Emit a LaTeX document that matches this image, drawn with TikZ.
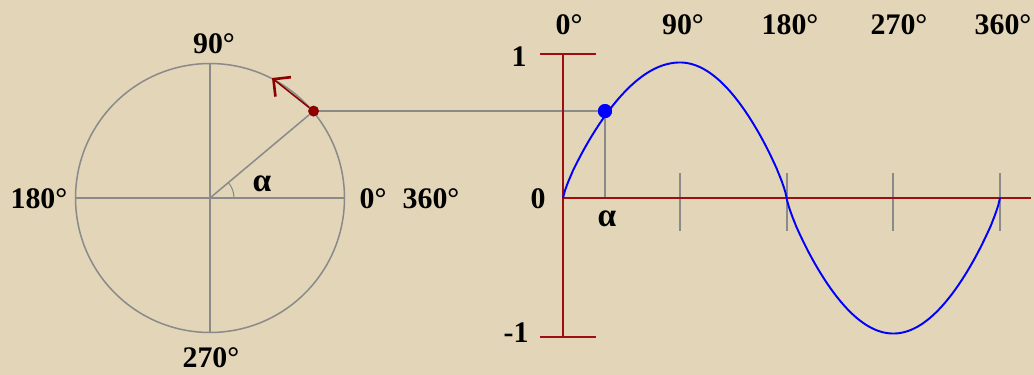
\documentclass[tikz,border=0pt]{standalone}
\usepackage{fontspec}
\setmainfont{Liberation Serif}
\usetikzlibrary{arrows.meta}
\definecolor{bg}{RGB}{226,213,184}
\definecolor{axgray}{RGB}{138,138,138}
\definecolor{axred}{RGB}{158,14,14}
\definecolor{ptred}{RGB}{140,0,0}
\begin{document}
\begin{tikzpicture}[x=0.02cm,y=-0.02cm,
  lbl/.style={font=\bfseries\fontsize{17}{20}\selectfont, inner sep=0pt, text=black},
  alph/.style={font=\bfseries\fontsize{19}{21}\selectfont, inner sep=0pt, text=black},
  grayline/.style={draw=axgray, line width=0.85pt},
  tickline/.style={draw=axgray, line width=1.1pt},
  redaxis/.style={draw=axred, line width=1.2pt},
  sinecurve/.style={draw=blue, line width=1.1pt},
  bluedot/.style={circle, fill=blue, inner sep=0pt, minimum size=0.28cm},
  reddot/.style={circle, fill=ptred, inner sep=0pt, minimum size=0.22cm},
  redarrow/.style={draw=ptred, line width=0.9pt, -{Straight Barb[angle=90:10pt, line width=1.5pt]}},
]
\fill[bg] (0,0) rectangle (1034,375);
\useasboundingbox (0,0) rectangle (1034,375);

% ---------- unit circle ----------
\node[circle, draw=axgray, line width=0.85pt, inner sep=0pt, minimum size=5.38cm] (unit) at (210,198) {};
\draw[grayline] (unit.west) -- (unit.east);
\draw[grayline] (unit.north) -- (unit.south);
\node[reddot] (P) at (unit.40) {};
\draw[grayline] (unit.center) -- (P);
\draw[grayline, line width=0.6pt] (unit.center) ++(0.48cm,0) arc[start angle=0, end angle=40, radius=0.48cm];
\coordinate (tip) at (272,78);
\draw[redarrow] (P) -- (tip);

\node[lbl] (c90)  at (214,44)  {90°};
\node[lbl] (c270) at (211,358) {270°};
\node[lbl] (c180) at (39,199)  {180°};
\node[lbl] (c0)   at (373,199) {0°};
\node[lbl] (c360) at (431,199) {360°};
\node[alph] (calpha) at (262,184) {α};

% ---------- sine graph ----------
\coordinate (O) at (563,198);
\coordinate (xend) at (1031,198);
\coordinate (ytop) at (563,54);
\coordinate (ybot) at (563,337);
\coordinate (ttl) at (540,54);
\coordinate (ttr) at (596,54);
\coordinate (tbl) at (540,337);
\coordinate (tbr) at (596,337);

\foreach \t/\xx in {a/680,b/787,c/893,d/1000}{
  \coordinate (tk\t1) at (\xx,173);
  \coordinate (tk\t2) at (\xx,231);
  \draw[tickline] (tk\t1) -- (tk\t2);
}

\coordinate (dx) at (605,0);
\node[bluedot] (D) at (P -| dx) {};
\coordinate (afoot) at (D |- O);
\draw[grayline] (P) -- (D);
\draw[grayline] (D) -- (afoot);

\draw[redaxis] (O) -- (xend);
\draw[redaxis] (ytop) -- (ybot);
\draw[redaxis] (ttl) -- (ttr);
\draw[redaxis] (tbl) -- (tbr);

\draw[sinecurve, line join=round]
  plot[domain=0:90, samples=60] ({563+\x*1.3}, {198-135.5*pow(sin(\x)+0.0001,0.8)})
  -- plot[domain=90:360, samples=180] ({680+(\x-90)*1.185185}, {198-135.5*sign(sin(\x))*pow(abs(sin(\x))+0.0001,0.8)});

\node[bluedot] (D2) at (D) {};

\node[lbl] (g0)   at (569,25)  {0°};
\node[lbl] (g90)  at (683,25)  {90°};
\node[lbl] (g180) at (790,25)  {180°};
\node[lbl] (g270) at (899,25)  {270°};
\node[lbl] (g360) at (1003,25) {360°};
\node[lbl] (v1)   at (519,57)  {1};
\node[lbl] (v0)   at (538,199) {0};
\node[lbl] (vm1)  at (516,333) {-1};
\node[alph] (galpha) at (607,219) {α};
\end{tikzpicture}
\end{document}
